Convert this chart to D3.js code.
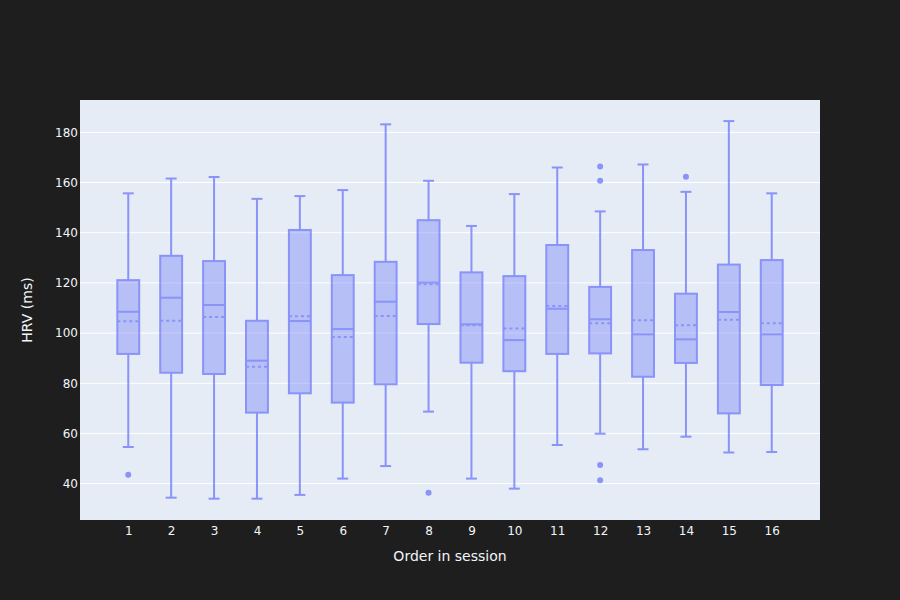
<!DOCTYPE html>
<html>
<head>
<meta charset="utf-8">
<script src="https://cdn.jsdelivr.net/npm/d3@7"></script>
<style>
  body { margin: 0; background: #1e1e1e; }
  svg { display: block; }
</style>
</head>
<body>
<div id="chart"></div>
<script>
// box stats per order in session
let orders = [1, 2, 3, 4, 5, 6, 7, 8, 9, 10, 11, 12, 13, 14, 15, 16]
let lowerFence = [54.6, 34.4, 34.0, 34.0, 35.5, 42.0, 47.0, 68.7, 42.0, 38.0, 55.4, 59.9, 53.7, 58.7, 52.4, 52.6]
let q1 = [91.7, 84.2, 83.7, 68.3, 76.0, 72.3, 79.6, 103.6, 88.2, 84.8, 91.7, 91.9, 82.6, 88.1, 68.0, 79.3]
let medians = [108.5, 114.1, 111.2, 89.0, 104.8, 101.6, 112.5, 120.1, 103.5, 97.2, 109.7, 105.5, 99.5, 97.5, 108.4, 99.5]
let means = [104.7, 104.9, 106.4, 86.6, 106.7, 98.4, 106.8, 119.5, 103.1, 101.8, 110.8, 103.9, 105.1, 103.1, 105.3, 103.9]
let q3 = [121.1, 130.8, 128.7, 104.9, 141.1, 123.1, 128.4, 145.0, 124.2, 122.7, 135.1, 118.4, 133.1, 115.7, 127.3, 129.1]
let upperFence = [155.7, 161.6, 162.2, 153.5, 154.6, 157.0, 183.2, 160.7, 142.7, 155.4, 166.0, 148.5, 167.2, 156.3, 184.5, 155.7]
let outliers = [[43.5], [], [], [], [], [], [], [36.4], [], [], [], [166.4, 160.7, 47.4, 41.3], [], [162.3], [], []]
let yTicks = [40, 60, 80, 100, 120, 140, 160, 180]

let margin = { top: 100, right: 80, bottom: 80, left: 80 }
let width = 900 - margin.left - margin.right
let height = 600 - margin.top - margin.bottom

let boxColor = "#636efa"
let fontFamily = "'DejaVu Sans', Verdana, sans-serif"
let textColor = "#f2f5fa"

let svg = d3.select("#chart")
    .append("svg")
    .attr("width", 900)
    .attr("height", 600)

svg.append("rect")
    .attr("width", 900)
    .attr("height", 600)
    .attr("fill", "#1e1e1e")

let g = svg.append("g")
    .attr("transform", "translate(" + margin.left + "," + margin.top + ")")

g.append("rect")
    .attr("width", width)
    .attr("height", height)
    .attr("fill", "#e5ecf6")

let xScale = d3.scaleLinear()
    .domain([-0.125, 17.125])
    .range([0, width])

let yScale = d3.scaleLinear()
    .domain([25.5, 192.9])
    .range([height, 0])

// grid
g.append("g")
    .selectAll("line")
    .data(yTicks)
    .enter()
    .append("line")
    .attr("x1", 0)
    .attr("x2", width)
    .attr("y1", d => yScale(d))
    .attr("y2", d => yScale(d))
    .attr("stroke", "#fff")
    .attr("stroke-width", 1)

let yAxis = g.append("g")
    .call(d3.axisLeft(yScale).tickValues(yTicks).tickSize(0).tickPadding(2))
yAxis.select(".domain").remove()
yAxis.selectAll("text")
    .attr("fill", textColor)
    .style("font-family", fontFamily)
    .style("font-size", "12px")

let xAxis = g.append("g")
    .attr("transform", "translate(0," + height + ")")
    .call(d3.axisBottom(xScale).tickValues(orders).tickFormat(d3.format("d")).tickSize(0).tickPadding(6))
xAxis.select(".domain").remove()
xAxis.selectAll("text")
    .attr("fill", textColor)
    .style("font-family", fontFamily)
    .style("font-size", "12px")

svg.append("text")
    .attr("x", 450)
    .attr("y", 561)
    .attr("text-anchor", "middle")
    .attr("fill", textColor)
    .style("font-family", fontFamily)
    .style("font-size", "14px")
    .text("Order in session")

svg.append("text")
    .attr("transform", "translate(32,310) rotate(-90)")
    .attr("text-anchor", "middle")
    .attr("fill", textColor)
    .style("font-family", fontFamily)
    .style("font-size", "14px")
    .text("HRV (ms)")

let boxW = xScale(0.51) - xScale(0)
let capW = boxW / 2

let boxes = g.append("g")
    .selectAll("g")
    .data(orders)
    .enter()
    .append("g")
    .attr("opacity", 0.7)

boxes.each(function (d, i) {
    let b = d3.select(this)
    let cx = xScale(d)

    // whiskers
    b.append("line")
        .attr("x1", cx).attr("x2", cx)
        .attr("y1", yScale(upperFence[i])).attr("y2", yScale(q3[i]))
        .attr("stroke", boxColor).attr("stroke-width", 2)
    b.append("line")
        .attr("x1", cx).attr("x2", cx)
        .attr("y1", yScale(q1[i])).attr("y2", yScale(lowerFence[i]))
        .attr("stroke", boxColor).attr("stroke-width", 2)
    b.append("line")
        .attr("x1", cx - capW / 2).attr("x2", cx + capW / 2)
        .attr("y1", yScale(upperFence[i])).attr("y2", yScale(upperFence[i]))
        .attr("stroke", boxColor).attr("stroke-width", 2)
    b.append("line")
        .attr("x1", cx - capW / 2).attr("x2", cx + capW / 2)
        .attr("y1", yScale(lowerFence[i])).attr("y2", yScale(lowerFence[i]))
        .attr("stroke", boxColor).attr("stroke-width", 2)

    // box
    b.append("rect")
        .attr("x", cx - boxW / 2)
        .attr("y", yScale(q3[i]))
        .attr("width", boxW)
        .attr("height", yScale(q1[i]) - yScale(q3[i]))
        .attr("fill", "rgba(99,110,250,0.5)")
        .attr("stroke", boxColor)
        .attr("stroke-width", 2)

    // median
    b.append("line")
        .attr("x1", cx - boxW / 2).attr("x2", cx + boxW / 2)
        .attr("y1", yScale(medians[i])).attr("y2", yScale(medians[i]))
        .attr("stroke", boxColor).attr("stroke-width", 2)

    // mean
    b.append("line")
        .attr("x1", cx - boxW / 2).attr("x2", cx + boxW / 2)
        .attr("y1", yScale(means[i])).attr("y2", yScale(means[i]))
        .attr("stroke", boxColor).attr("stroke-width", 2)
        .attr("stroke-dasharray", "3,3")

    // outliers
    b.selectAll("circle")
        .data(outliers[i])
        .enter()
        .append("circle")
        .attr("cx", cx)
        .attr("cy", v => yScale(v))
        .attr("r", 3)
        .attr("fill", boxColor)
})
</script>
</body>
</html>
